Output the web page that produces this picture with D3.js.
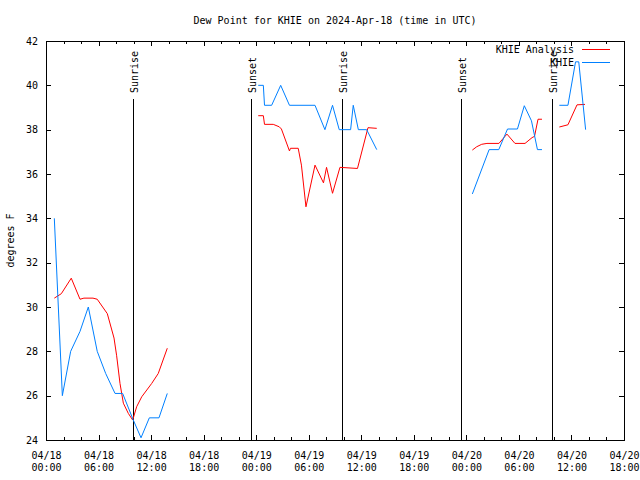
<!DOCTYPE html>
<html><head><meta charset="utf-8">
<script src="https://cdn.jsdelivr.net/npm/d3@7"></script>
<style>
body{margin:0;background:#fff;}
svg text{font-family:"DejaVu Sans Mono","Liberation Mono",monospace;font-size:10px;fill:#000;}
</style></head><body>
<svg id="chart" width="640" height="480"></svg>
<script>
const titleText = "Dew Point for KHIE on 2024-Apr-18 (time in UTC)";
const yLabel = "degrees F";
const seriesNames = ["KHIE Analysis", "KHIE"];
const xDomain = ["2024-04-18T00:00Z", "2024-04-20T18:00Z"];
const yDomain = [24, 42];
const yTicks = [24, 26, 28, 30, 32, 34, 36, 38, 40, 42];

// null entries mark gaps in the data (line breaks)
const analysisTimes = [
 "2024-04-18T00:57Z","2024-04-18T01:45Z","2024-04-18T02:53Z","2024-04-18T03:53Z","2024-04-18T04:20Z",
 "2024-04-18T05:22Z","2024-04-18T05:51Z","2024-04-18T07:00Z","2024-04-18T07:46Z","2024-04-18T08:04Z",
 "2024-04-18T08:27Z","2024-04-18T08:50Z","2024-04-18T09:24Z","2024-04-18T09:54Z","2024-04-18T10:21Z",
 "2024-04-18T10:56Z","2024-04-18T12:04Z","2024-04-18T12:49Z","2024-04-18T13:51Z",
 null,
 "2024-04-19T00:14Z","2024-04-19T00:49Z","2024-04-19T00:57Z","2024-04-19T01:57Z","2024-04-19T02:38Z",
 "2024-04-19T02:53Z","2024-04-19T03:48Z","2024-04-19T03:55Z","2024-04-19T04:48Z","2024-04-19T05:10Z",
 "2024-04-19T05:41Z","2024-04-19T06:43Z","2024-04-19T07:41Z","2024-04-19T08:02Z","2024-04-19T08:43Z",
 "2024-04-19T09:34Z","2024-04-19T11:34Z","2024-04-19T12:46Z","2024-04-19T13:46Z",
 null,
 "2024-04-20T00:41Z","2024-04-20T01:11Z","2024-04-20T01:45Z","2024-04-20T02:21Z","2024-04-20T03:43Z",
 "2024-04-20T04:38Z","2024-04-20T05:33Z","2024-04-20T06:42Z","2024-04-20T07:30Z","2024-04-20T07:47Z",
 "2024-04-20T08:11Z","2024-04-20T08:38Z",
 null,
 "2024-04-20T10:37Z","2024-04-20T11:36Z","2024-04-20T12:38Z","2024-04-20T13:33Z"
];
const analysisValues = [
 30.4,30.6,31.3,30.35,30.4,
 30.4,30.35,29.7,28.6,27.8,
 26.55,25.66,25.2,24.9,25.5,
 25.95,26.55,27.0,28.14,
 null,
 38.63,38.63,38.24,38.24,38.13,
 38.03,37.04,37.16,37.16,36.4,
 34.52,36.4,35.6,36.3,35.13,
 36.3,36.25,38.09,38.06,
 null,
 37.08,37.23,37.34,37.38,37.38,
 37.8,37.38,37.38,37.64,37.7,
 38.47,38.47,
 null,
 38.12,38.22,39.12,39.14
];

const obsTimes = [
 "2024-04-18T00:57Z","2024-04-18T01:52Z","2024-04-18T02:49Z","2024-04-18T03:53Z","2024-04-18T04:50Z",
 "2024-04-18T05:51Z","2024-04-18T06:49Z","2024-04-18T07:53Z","2024-04-18T08:45Z","2024-04-18T09:58Z",
 "2024-04-18T10:51Z","2024-04-18T11:48Z","2024-04-18T12:54Z","2024-04-18T13:51Z",
 null,
 "2024-04-19T00:14Z","2024-04-19T00:49Z","2024-04-19T00:57Z","2024-04-19T01:46Z","2024-04-19T02:48Z",
 "2024-04-19T03:48Z","2024-04-19T06:43Z","2024-04-19T07:51Z","2024-04-19T08:43Z","2024-04-19T09:29Z",
 "2024-04-19T10:47Z","2024-04-19T11:05Z","2024-04-19T11:40Z","2024-04-19T12:37Z","2024-04-19T13:46Z",
 null,
 "2024-04-20T00:41Z","2024-04-20T02:36Z","2024-04-20T03:42Z","2024-04-20T04:42Z","2024-04-20T05:50Z",
 "2024-04-20T06:37Z","2024-04-20T07:26Z","2024-04-20T08:07Z","2024-04-20T08:38Z",
 null,
 "2024-04-20T10:37Z","2024-04-20T11:36Z","2024-04-20T12:28Z","2024-04-20T12:50Z","2024-04-20T13:37Z"
];
const obsValues = [
 34.0,26.0,28.0,28.9,30.0,
 28.0,27.0,26.1,26.1,24.9,
 24.1,25.0,25.0,26.1,
 null,
 40.0,40.0,39.1,39.1,40.0,
 39.1,39.1,38.0,39.1,38.0,
 38.0,39.1,38.0,38.0,37.1,
 null,
 35.1,37.1,37.1,38.03,38.03,
 39.08,38.4,37.1,37.1,
 null,
 39.1,39.1,41.06,41.06,38.0
];

const sunLabels = ["Sunrise","Sunset","Sunrise","Sunset","Sunrise"];
const sunTimes = ["2024-04-18T09:58Z","2024-04-18T23:22Z","2024-04-19T09:50Z","2024-04-19T23:24Z","2024-04-20T09:44Z"];

const colors = ["#ff0000", "#0080ff"];

const L = 46, R = 624, T = 41, B = 440;
const svg = d3.select("#chart");
const x = d3.scaleUtc().domain(xDomain.map(d => new Date(d))).range([L, R]);
const y = d3.scaleLinear().domain(yDomain).range([B, T]);

const majorTicks = d3.utcHour.every(6).range(x.domain()[0], new Date(+x.domain()[1] + 1));
const minorTicks = d3.utcHour.every(2).range(x.domain()[0], new Date(+x.domain()[1] + 1)).filter(d => d.getUTCHours() % 6 !== 0);

function clean(g){ g.select(".domain").remove(); g.attr("font-family", null).attr("font-size", null); g.selectAll("line").attr("stroke","#000").attr("shape-rendering","crispEdges"); }

// bottom major
svg.append("g").attr("transform", `translate(0,${B})`)
  .call(d3.axisBottom(x).tickValues(majorTicks).tickSize(-5).tickPadding(8).tickFormat(""))
  .call(clean)
  .selectAll(".tick").append("text")
  .attr("text-anchor","middle")
  .each(function(d){
    const t = d3.select(this);
    t.append("tspan").attr("x",0).attr("y",19).text(d3.utcFormat("%m/%d")(d));
    t.append("tspan").attr("x",0).attr("y",31).text(d3.utcFormat("%H:%M")(d));
  });
svg.append("g").attr("transform", `translate(0,${B})`)
  .call(d3.axisBottom(x).tickValues(minorTicks).tickSize(-3).tickFormat("")).call(clean);
// top mirror
svg.append("g").attr("transform", `translate(0,${T})`)
  .call(d3.axisTop(x).tickValues(majorTicks).tickSize(-5).tickFormat("")).call(clean);
svg.append("g").attr("transform", `translate(0,${T})`)
  .call(d3.axisTop(x).tickValues(minorTicks).tickSize(-3).tickFormat("")).call(clean);
// left
svg.append("g").attr("transform", `translate(${L},0)`)
  .call(d3.axisLeft(y).tickValues(yTicks).tickSize(-5).tickPadding(8).tickFormat(d3.format("d"))).call(clean)
  .selectAll("text").attr("dy","0.32em");
svg.append("g").attr("transform", `translate(${R},0)`)
  .call(d3.axisRight(y).tickValues(yTicks).tickSize(-5).tickFormat("")).call(clean);

// border
svg.append("rect").attr("x",L).attr("y",T).attr("width",R-L).attr("height",B-T)
  .attr("fill","none").attr("stroke","#000").attr("shape-rendering","crispEdges");

// sunrise/sunset lines
sunTimes.forEach((t,i) => {
  const xx = Math.round(x(new Date(t))) + 0.5;
  svg.append("line").attr("x1",xx).attr("x2",xx).attr("y1",99).attr("y2",B)
    .attr("stroke","#000").attr("stroke-width",1);
  svg.append("text").attr("transform",`translate(${xx+4},93) rotate(-90)`)
    .attr("text-anchor","start").text(sunLabels[i]);
});

// series
const line = d3.line().defined(d => d.v != null).x(d => x(d.t)).y(d => y(d.v));
[[analysisTimes, analysisValues],[obsTimes, obsValues]].forEach(([ts, vs], k) => {
  const pts = ts.map((t,i) => ({t: t ? new Date(t) : null, v: vs[i]}));
  svg.append("path").attr("d", line(pts)).attr("fill","none")
    .attr("stroke", colors[k]).attr("stroke-width",1);
});

// legend
seriesNames.forEach((n,i) => {
  const yy = 49 + i*13;
  svg.append("text").attr("x",574).attr("y",yy+3.5).attr("text-anchor","end").text(n);
  svg.append("line").attr("x1",582).attr("x2",610).attr("y1",yy+0.5).attr("y2",yy+0.5)
    .attr("stroke",colors[i]).attr("stroke-width",1);
});

// title & y label
svg.append("text").attr("x",(L+R)/2).attr("y",24).attr("text-anchor","middle").text(titleText);
svg.append("text").attr("transform",`translate(14,${(T+B)/2}) rotate(-90)`)
  .attr("text-anchor","middle").text(yLabel);
</script>
</body></html>
